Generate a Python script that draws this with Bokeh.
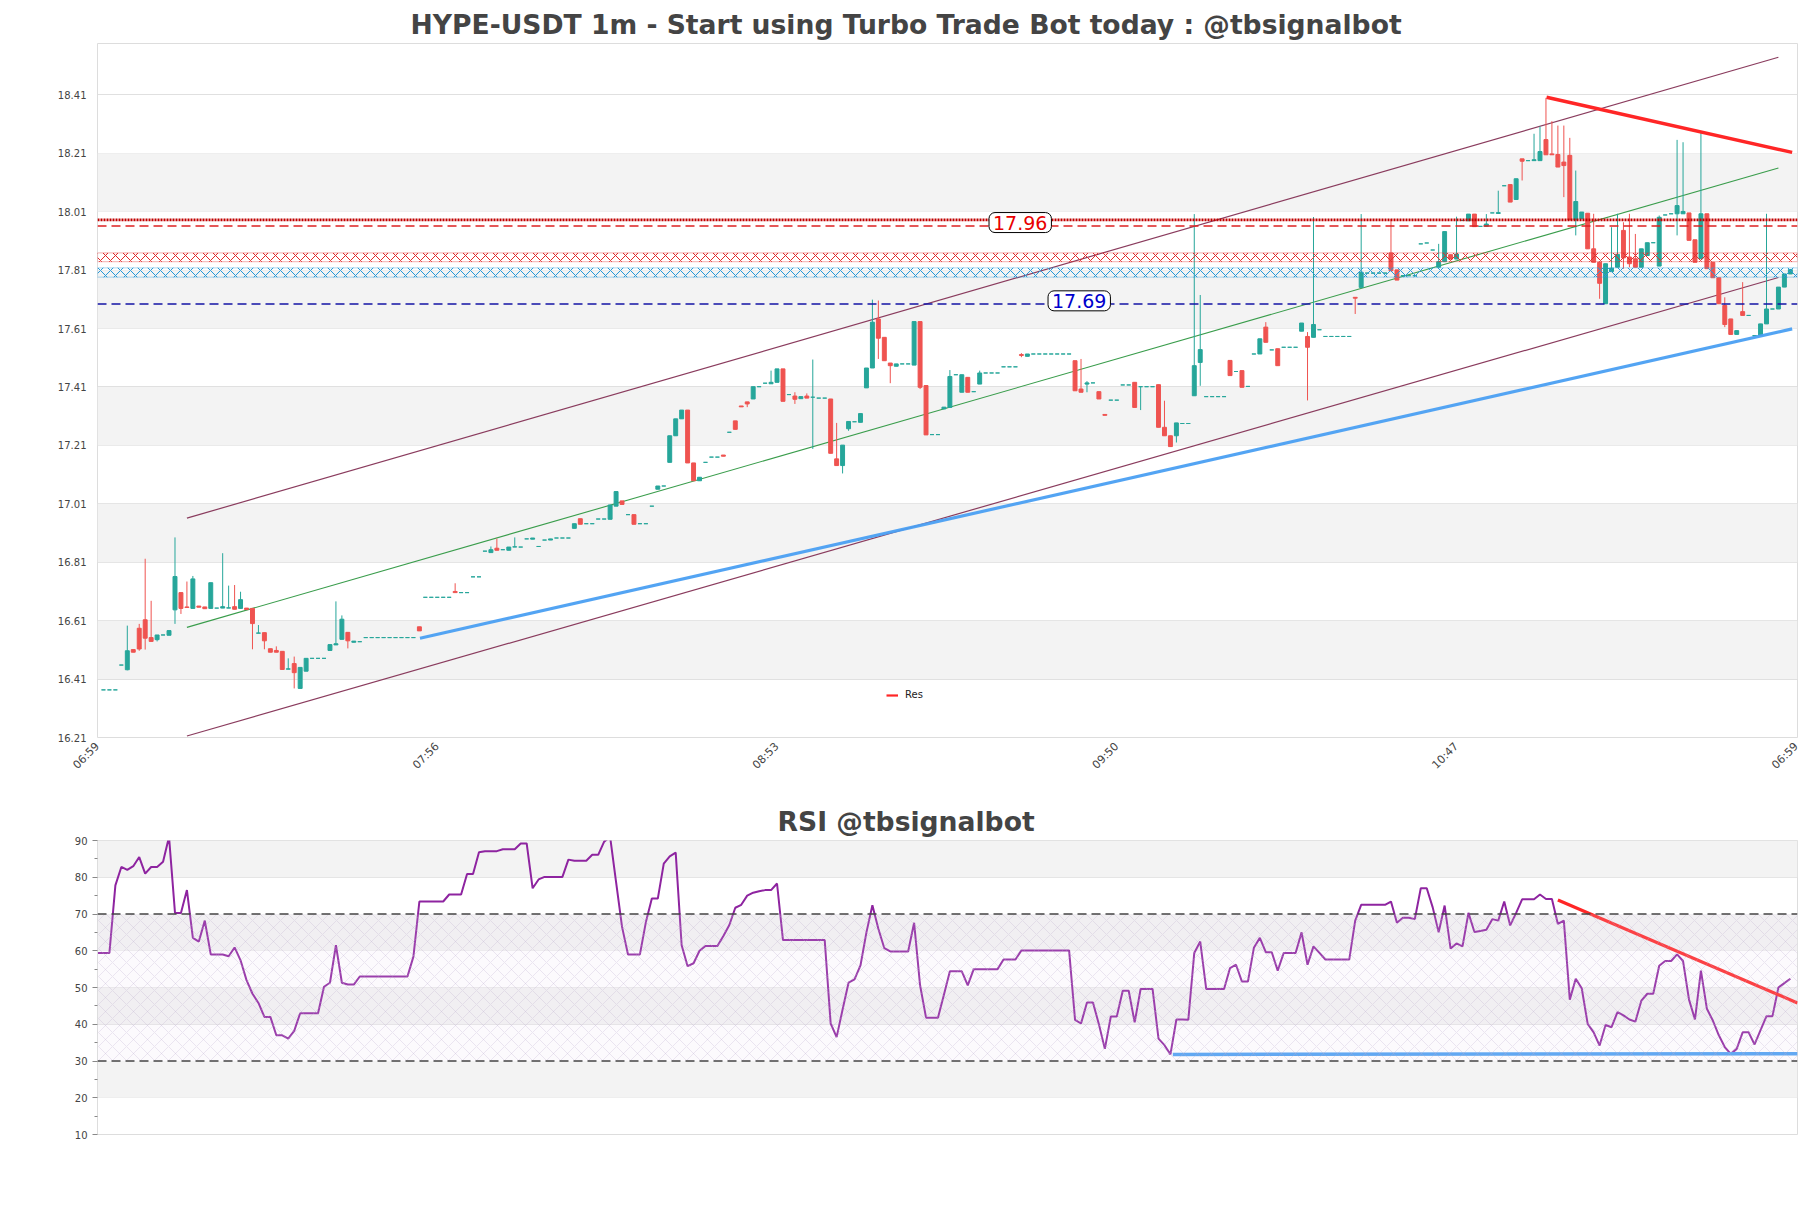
import math
from bokeh.plotting import figure
from bokeh.models import (ColumnDataSource, Range1d, FixedTicker, PrintfTickFormatter,
                          Label, Legend, LegendItem, Title, Span, BoxAnnotation)
from bokeh.layouts import column
from bokeh.embed import file_html
from bokeh.resources import INLINE

# ---------------- data ----------------
title_main = "HYPE-USDT 1m - Start using Turbo Trade Bot today : @tbsignalbot"
title_rsi = "RSI @tbsignalbot"

x_tick_pos = [0, 57, 114, 171, 228, 285]
x_tick_labels = ["06:59", "07:56", "08:53", "09:50", "10:47", "06:59"]
price_ticks = [16.21, 16.41, 16.61, 16.81, 17.01, 17.21, 17.41, 17.61, 17.81, 18.01, 18.21, 18.41]
price_bands = [16.41, 16.81, 17.21, 17.61, 18.01]
rsi_ticks = [10, 20, 30, 40, 50, 60, 70, 80, 90]
rsi_minor = [15, 25, 35, 45, 55, 65, 75, 85]
rsi_bands = [20, 40, 60, 80]

opens = [
    16.373, 16.373, 16.373, 16.458, 16.442, 16.511, 16.584, 16.613, 16.552, 16.545,
    16.561, 16.560, 16.647, 16.706, 16.657, 16.652, 16.660, 16.657, 16.652, 16.653,
    16.653, 16.653, 16.658, 16.652, 16.653, 16.652, 16.567, 16.569, 16.514, 16.508,
    16.505, 16.444, 16.463, 16.378, 16.437, 16.481, 16.481, 16.481, 16.508, 16.527,
    16.546, 16.570, 16.536, 16.538, 16.552, 16.552, 16.552, 16.552, 16.552, 16.552,
    16.552, 16.552, 16.552, 16.589, 16.690, 16.690, 16.690, 16.690, 16.690, 16.710,
    16.706, 16.706, 16.760, 16.760, 16.848, 16.843, 16.858, 16.853, 16.851, 16.862,
    16.862, 16.890, 16.889, 16.864, 16.886, 16.886, 16.893, 16.893, 16.893, 16.926,
    16.959, 16.942, 16.942, 16.958, 16.958, 16.957, 17.002, 17.020, 16.973, 16.973,
    16.942, 16.942, 17.002, 17.060, 17.071, 17.152, 17.243, 17.301, 17.331, 17.150,
    17.089, 17.152, 17.170, 17.170, 17.177, 17.255, 17.294, 17.345, 17.359, 17.369,
    17.411, 17.423, 17.421, 17.426, 17.472, 17.384, 17.379, 17.370, 17.379, 17.375,
    17.372, 17.372, 17.369, 17.164, 17.141, 17.267, 17.291, 17.289, 17.407, 17.475,
    17.643, 17.580, 17.492, 17.481, 17.489, 17.489, 17.485, 17.634, 17.415, 17.247,
    17.247, 17.335, 17.340, 17.452, 17.392, 17.443, 17.394, 17.420, 17.458, 17.458,
    17.458, 17.479, 17.479, 17.479, 17.521, 17.515, 17.523, 17.523, 17.523, 17.523,
    17.523, 17.523, 17.523, 17.500, 17.403, 17.420, 17.424, 17.394, 17.316, 17.365,
    17.365, 17.417, 17.417, 17.426, 17.411, 17.411, 17.411, 17.418, 17.272, 17.243,
    17.243, 17.285, 17.285, 17.380, 17.494, 17.377, 17.377, 17.377, 17.377, 17.501,
    17.463, 17.466, 17.412, 17.523, 17.523, 17.615, 17.537, 17.541, 17.546, 17.546,
    17.546, 17.601, 17.583, 17.580, 17.606, 17.583, 17.583, 17.583, 17.583, 17.583,
    17.717, 17.751, 17.800, 17.800, 17.800, 17.800, 17.869, 17.811, 17.791, 17.791,
    17.791, 17.900, 17.903, 17.879, 17.820, 17.839, 17.863, 17.848, 17.980, 17.979,
    18.002, 17.960, 17.960, 18.006, 18.004, 18.099, 18.103, 18.052, 18.191, 18.185,
    18.185, 18.185, 18.257, 18.208, 18.206, 18.180, 18.203, 17.982, 17.986, 18.005,
    17.883, 17.837, 17.695, 17.805, 17.820, 17.946, 17.855, 17.849, 17.820, 17.860,
    17.904, 17.824, 17.999, 18.003, 18.003, 18.003, 18.006, 17.914, 17.849, 18.003,
    17.837, 17.784, 17.689, 17.643, 17.590, 17.668, 17.655, 17.586, 17.586, 17.626,
    17.677, 17.677, 17.752, 17.797,
]
highs = [
    16.373, 16.373, 16.373, 16.458, 16.593, 16.511, 16.599, 16.822, 16.678, 16.561,
    16.561, 16.576, 16.895, 16.706, 16.744, 16.763, 16.660, 16.657, 16.740, 16.653,
    16.841, 16.730, 16.732, 16.709, 16.653, 16.652, 16.595, 16.569, 16.514, 16.522,
    16.505, 16.481, 16.487, 16.450, 16.481, 16.481, 16.481, 16.481, 16.528, 16.676,
    16.628, 16.570, 16.540, 16.538, 16.552, 16.552, 16.552, 16.552, 16.552, 16.552,
    16.552, 16.552, 16.552, 16.589, 16.690, 16.690, 16.690, 16.690, 16.690, 16.738,
    16.706, 16.706, 16.760, 16.760, 16.848, 16.864, 16.891, 16.853, 16.862, 16.895,
    16.862, 16.890, 16.893, 16.864, 16.886, 16.890, 16.893, 16.893, 16.893, 16.942,
    16.959, 16.942, 16.942, 16.958, 16.958, 17.006, 17.052, 17.020, 16.973, 16.973,
    16.942, 16.942, 17.002, 17.071, 17.071, 17.243, 17.301, 17.331, 17.331, 17.150,
    17.101, 17.152, 17.170, 17.170, 17.177, 17.255, 17.294, 17.345, 17.359, 17.411,
    17.411, 17.423, 17.466, 17.472, 17.472, 17.384, 17.392, 17.377, 17.388, 17.504,
    17.372, 17.372, 17.369, 17.287, 17.211, 17.292, 17.291, 17.319, 17.475, 17.709,
    17.706, 17.580, 17.492, 17.489, 17.489, 17.489, 17.634, 17.634, 17.415, 17.247,
    17.247, 17.341, 17.468, 17.452, 17.452, 17.443, 17.394, 17.466, 17.458, 17.458,
    17.458, 17.479, 17.479, 17.479, 17.526, 17.523, 17.523, 17.523, 17.523, 17.523,
    17.523, 17.523, 17.523, 17.500, 17.506, 17.430, 17.424, 17.394, 17.316, 17.365,
    17.365, 17.417, 17.417, 17.426, 17.411, 17.411, 17.411, 17.418, 17.363, 17.243,
    17.287, 17.285, 17.285, 18.002, 17.725, 17.377, 17.377, 17.377, 17.377, 17.501,
    17.463, 17.466, 17.412, 17.523, 17.575, 17.632, 17.537, 17.541, 17.546, 17.546,
    17.546, 17.629, 17.598, 17.992, 17.606, 17.583, 17.583, 17.583, 17.583, 17.583,
    17.717, 18.002, 17.800, 17.800, 17.800, 17.800, 17.985, 17.811, 17.791, 17.791,
    17.791, 17.900, 17.903, 17.879, 17.900, 17.942, 17.863, 17.993, 17.980, 18.002,
    18.002, 17.960, 18.002, 18.006, 18.082, 18.099, 18.103, 18.123, 18.191, 18.185,
    18.277, 18.302, 18.400, 18.320, 18.305, 18.305, 18.263, 18.151, 18.009, 18.005,
    18.003, 17.837, 17.832, 17.957, 18.003, 17.974, 18.003, 17.934, 17.883, 17.904,
    17.904, 17.997, 17.999, 18.003, 18.256, 18.248, 18.006, 17.914, 18.286, 18.003,
    17.837, 17.784, 17.717, 17.643, 17.603, 17.769, 17.655, 17.586, 17.626, 18.003,
    17.677, 17.752, 17.797, 17.812,
]
lows = [
    16.373, 16.373, 16.373, 16.458, 16.440, 16.502, 16.507, 16.511, 16.538, 16.539,
    16.561, 16.560, 16.599, 16.633, 16.655, 16.652, 16.656, 16.651, 16.652, 16.653,
    16.653, 16.653, 16.649, 16.652, 16.648, 16.512, 16.567, 16.512, 16.502, 16.502,
    16.443, 16.444, 16.378, 16.378, 16.437, 16.481, 16.481, 16.481, 16.508, 16.527,
    16.546, 16.515, 16.536, 16.538, 16.552, 16.552, 16.552, 16.552, 16.552, 16.552,
    16.552, 16.552, 16.552, 16.575, 16.690, 16.690, 16.690, 16.690, 16.690, 16.706,
    16.706, 16.706, 16.760, 16.760, 16.848, 16.843, 16.851, 16.853, 16.851, 16.862,
    16.862, 16.890, 16.889, 16.864, 16.886, 16.886, 16.893, 16.893, 16.893, 16.926,
    16.940, 16.942, 16.942, 16.958, 16.958, 16.957, 17.002, 17.008, 16.973, 16.940,
    16.942, 16.942, 17.002, 17.060, 17.071, 17.152, 17.243, 17.301, 17.150, 17.089,
    17.089, 17.152, 17.170, 17.170, 17.173, 17.255, 17.265, 17.342, 17.341, 17.369,
    17.411, 17.423, 17.421, 17.426, 17.361, 17.384, 17.352, 17.370, 17.372, 17.198,
    17.372, 17.372, 17.183, 17.141, 17.114, 17.260, 17.291, 17.289, 17.407, 17.475,
    17.506, 17.500, 17.423, 17.481, 17.489, 17.489, 17.485, 17.403, 17.246, 17.247,
    17.247, 17.335, 17.340, 17.452, 17.392, 17.392, 17.394, 17.420, 17.458, 17.458,
    17.458, 17.479, 17.479, 17.479, 17.512, 17.515, 17.523, 17.523, 17.523, 17.523,
    17.523, 17.523, 17.523, 17.397, 17.392, 17.392, 17.424, 17.369, 17.313, 17.365,
    17.365, 17.417, 17.417, 17.340, 17.331, 17.411, 17.411, 17.272, 17.243, 17.206,
    17.220, 17.285, 17.285, 17.380, 17.414, 17.377, 17.377, 17.377, 17.377, 17.449,
    17.463, 17.409, 17.412, 17.523, 17.523, 17.563, 17.537, 17.483, 17.546, 17.546,
    17.546, 17.601, 17.364, 17.580, 17.606, 17.583, 17.583, 17.583, 17.583, 17.583,
    17.660, 17.751, 17.800, 17.800, 17.800, 17.800, 17.808, 17.776, 17.791, 17.791,
    17.791, 17.900, 17.903, 17.879, 17.820, 17.839, 17.848, 17.848, 17.980, 17.979,
    17.959, 17.960, 17.960, 18.006, 18.004, 18.099, 18.043, 18.052, 18.117, 18.185,
    18.185, 18.185, 18.205, 18.205, 18.163, 18.060, 17.982, 17.929, 17.986, 17.883,
    17.837, 17.712, 17.695, 17.805, 17.820, 17.815, 17.820, 17.820, 17.820, 17.860,
    17.904, 17.824, 17.999, 18.003, 17.929, 18.003, 17.912, 17.837, 17.849, 17.815,
    17.784, 17.695, 17.615, 17.590, 17.590, 17.655, 17.655, 17.586, 17.586, 17.626,
    17.677, 17.677, 17.752, 17.797,
]
closes = [
    16.373, 16.373, 16.373, 16.458, 16.507, 16.502, 16.513, 16.550, 16.539, 16.561,
    16.561, 16.576, 16.761, 16.652, 16.655, 16.753, 16.656, 16.651, 16.740, 16.653,
    16.658, 16.654, 16.649, 16.682, 16.648, 16.600, 16.568, 16.541, 16.502, 16.502,
    16.443, 16.445, 16.432, 16.450, 16.481, 16.481, 16.481, 16.481, 16.528, 16.531,
    16.615, 16.541, 16.540, 16.538, 16.552, 16.552, 16.552, 16.552, 16.552, 16.552,
    16.552, 16.552, 16.552, 16.575, 16.690, 16.690, 16.690, 16.690, 16.690, 16.706,
    16.706, 16.706, 16.760, 16.760, 16.848, 16.853, 16.851, 16.853, 16.862, 16.863,
    16.862, 16.890, 16.893, 16.864, 16.886, 16.890, 16.893, 16.893, 16.893, 16.942,
    16.940, 16.942, 16.942, 16.958, 16.958, 17.006, 17.052, 17.008, 16.973, 16.940,
    16.942, 16.942, 17.002, 17.071, 17.071, 17.243, 17.301, 17.331, 17.150, 17.089,
    17.101, 17.152, 17.170, 17.170, 17.173, 17.255, 17.265, 17.342, 17.352, 17.411,
    17.411, 17.423, 17.426, 17.472, 17.361, 17.384, 17.368, 17.377, 17.372, 17.375,
    17.372, 17.372, 17.183, 17.141, 17.211, 17.292, 17.291, 17.319, 17.475, 17.632,
    17.577, 17.500, 17.483, 17.489, 17.489, 17.489, 17.634, 17.409, 17.246, 17.247,
    17.247, 17.341, 17.446, 17.452, 17.452, 17.392, 17.394, 17.458, 17.458, 17.458,
    17.458, 17.479, 17.479, 17.479, 17.518, 17.523, 17.523, 17.523, 17.523, 17.523,
    17.523, 17.523, 17.523, 17.397, 17.392, 17.424, 17.424, 17.369, 17.313, 17.365,
    17.365, 17.417, 17.417, 17.340, 17.411, 17.411, 17.411, 17.272, 17.243, 17.206,
    17.287, 17.285, 17.285, 17.483, 17.538, 17.377, 17.377, 17.377, 17.377, 17.449,
    17.463, 17.409, 17.412, 17.523, 17.575, 17.563, 17.537, 17.483, 17.546, 17.546,
    17.546, 17.629, 17.546, 17.624, 17.606, 17.583, 17.583, 17.583, 17.583, 17.583,
    17.714, 17.803, 17.800, 17.800, 17.800, 17.800, 17.808, 17.776, 17.791, 17.791,
    17.791, 17.900, 17.903, 17.879, 17.839, 17.942, 17.848, 17.865, 17.980, 18.002,
    17.959, 17.960, 17.968, 18.006, 18.007, 18.099, 18.043, 18.123, 18.183, 18.185,
    18.188, 18.216, 18.205, 18.205, 18.163, 18.168, 17.982, 18.045, 18.009, 17.883,
    17.837, 17.765, 17.832, 17.817, 17.864, 17.852, 17.832, 17.820, 17.883, 17.904,
    17.904, 17.991, 17.999, 18.003, 18.031, 18.011, 17.912, 17.837, 18.003, 17.815,
    17.784, 17.695, 17.624, 17.590, 17.603, 17.655, 17.655, 17.586, 17.626, 17.677,
    17.677, 17.752, 17.797, 17.812,
]

rsi = [
    59.4, 59.4, 59.4, 77.8, 82.8, 82.0, 83.0, 85.5, 81.0, 82.8,
    82.8, 84.2, 91.0, 70.3, 70.3, 76.5, 63.5, 62.5, 68.2, 59.0,
    59.0, 59.0, 58.5, 60.9, 57.4, 52.0, 48.3, 45.8, 42.0, 42.0,
    37.0, 37.0, 36.1, 38.2, 43.0, 43.0, 43.0, 43.0, 50.2, 51.3,
    61.5, 51.3, 50.8, 50.8, 53.0, 53.0, 53.0, 53.0, 53.0, 53.0,
    53.0, 53.0, 53.0, 58.4, 73.4, 73.4, 73.4, 73.4, 73.4, 75.3,
    75.3, 75.3, 80.9, 80.9, 86.8, 87.1, 87.1, 87.1, 87.6, 87.6,
    87.6, 89.2, 89.2, 77.0, 79.4, 80.1, 80.1, 80.1, 80.1, 84.8,
    84.5, 84.5, 84.5, 86.1, 86.1, 89.7, 91.0, 78.7, 66.5, 59.0,
    59.0, 59.0, 67.8, 74.2, 74.2, 83.7, 85.7, 86.7, 61.5, 55.8,
    56.6, 60.0, 61.3, 61.3, 61.3, 64.0, 67.0, 71.7, 72.5, 75.0,
    75.8, 76.2, 76.5, 76.5, 78.3, 62.9, 62.9, 62.9, 62.9, 62.9,
    62.9, 62.9, 62.9, 40.2, 36.5, 44.0, 51.3, 52.2, 56.0, 65.0,
    72.4, 66.0, 60.7, 59.8, 59.8, 59.8, 59.8, 67.6, 50.6, 41.8,
    41.8, 41.8, 48.0, 54.4, 54.4, 54.4, 50.6, 55.0, 55.0, 55.0,
    55.0, 55.0, 57.6, 57.6, 57.6, 60.1, 60.1, 60.1, 60.1, 60.1,
    60.1, 60.1, 60.1, 60.1, 41.2, 40.2, 45.9, 45.9, 40.0, 33.3,
    42.1, 42.1, 49.1, 49.1, 40.5, 49.6, 49.6, 49.6, 36.1, 34.3,
    31.8, 41.3, 41.3, 41.2, 59.4, 62.5, 49.6, 49.6, 49.6, 49.6,
    55.3, 56.2, 51.6, 51.6, 60.8, 63.5, 59.6, 59.6, 54.6, 59.4,
    59.4, 59.4, 65.0, 56.2, 61.2, 59.4, 57.6, 57.6, 57.6, 57.6,
    57.6, 68.2, 72.5, 72.5, 72.5, 72.5, 72.5, 73.4, 67.6, 69.0,
    69.0, 68.6, 77.0, 77.0, 71.8, 65.0, 72.3, 60.6, 62.0, 61.2,
    70.3, 65.1, 65.4, 65.7, 68.6, 68.2, 73.4, 66.9, 70.3, 74.0,
    74.0, 74.0, 75.3, 74.1, 74.1, 67.3, 68.2, 46.7, 52.4, 49.8,
    40.1, 37.8, 34.2, 39.8, 39.2, 43.3, 42.4, 41.3, 40.7, 46.4,
    48.3, 48.3, 55.9, 57.2, 57.2, 59.0, 57.2, 46.7, 41.3, 54.6,
    44.2, 41.0, 37.0, 33.8, 31.9, 33.3, 37.8, 37.8, 34.5, 38.4,
    42.2, 42.2, 50.0, 51.2, 52.4,
]

# trend / channel lines (index, price)
chan_up_x, chan_up_y = [15, 282], [16.961, 18.539]
chan_lo_x, chan_lo_y = [15, 282], [16.215, 17.785]
chan_mid_x, chan_mid_y = [15, 282], [16.587, 18.160]
sup_x, sup_y = [54.1, 284.3], [16.550, 17.609]
res_x, res_y = [243.1, 284.3], [18.402, 18.213]

# horizontal levels
lvl_dotted = 17.982
lvl_res = 17.961
lvl_sup = 17.694
zone_red = (17.839, 17.869)
zone_blue = (17.786, 17.818)
label_res = (154.8, 17.973, "17.96")
label_sup = (164.7, 17.705, "17.69")

# RSI trend lines
rsi_res_x, rsi_res_y = [245.0, 285.2], [73.8, 45.8]
rsi_sup_x, rsi_sup_y = [180.4, 285.2], [31.8, 32.0]

# ---------------- build ----------------
FONT = "DejaVu Sans"
TXT = "#444444"
GREEN = "#26a69a"
RED = "#ef5350"
BAND = "#f3f3f3"
GRID = "#e0e0e0"

cx = list(range(1, len(opens) + 1))
colors = [GREEN if c >= o else RED for o, c in zip(opens, closes)]
src = ColumnDataSource(dict(
    x=cx, open=opens, close=closes, high=highs, low=lows,
    top=[max(o, c) for o, c in zip(opens, closes)],
    bottom=[min(o, c) for o, c in zip(opens, closes)],
    color=colors))

XR = (0, 285.2)
p = figure(width=1811, height=780, x_range=Range1d(*XR), y_range=Range1d(16.21, 18.586),
           output_backend="svg", toolbar_location=None,
           min_border_left=97, min_border_right=14, min_border_top=43, min_border_bottom=43)
p.title = Title(text=title_main, align="left", offset=313, text_font_size="26.6px",
                text_font_style="bold", text_color=TXT, text_font=FONT, standoff=8)
p.outline_line_color = "#dddddd"
p.background_fill_color = "white"
p.border_fill_color = "white"

for lo in price_bands:
    p.add_layout(BoxAnnotation(bottom=lo, top=round(lo + 0.2, 2), fill_color=BAND, fill_alpha=1,
                               line_alpha=0, level="underlay"))

p.yaxis.ticker = FixedTicker(ticks=price_ticks)
p.yaxis.formatter = PrintfTickFormatter(format="%.2f")
p.ygrid.ticker = FixedTicker(ticks=price_ticks)
p.ygrid.grid_line_color = GRID
p.xgrid.grid_line_color = None
p.xaxis.ticker = FixedTicker(ticks=x_tick_pos)
p.xaxis.major_label_overrides = {t: l for t, l in zip(x_tick_pos, x_tick_labels)}
p.xaxis.major_label_orientation = math.pi / 4
for ax in (p.xaxis, p.yaxis):
    ax.major_label_text_font = FONT
    ax.major_label_text_color = TXT
    ax.major_tick_line_color = None
    ax.minor_tick_line_color = None
    ax.axis_line_color = None
p.yaxis.major_label_text_font_size = "10px"
p.xaxis.major_label_text_font_size = "11px"
p.xaxis.major_label_standoff = 1

# hatched zones
p.add_layout(BoxAnnotation(bottom=zone_red[0], top=zone_red[1], fill_alpha=0,
                           hatch_pattern="diagonal_cross", hatch_color="#e02828", hatch_scale=10,
                           hatch_weight=1, line_color="#e02828", line_width=1.2))
p.add_layout(BoxAnnotation(bottom=zone_blue[0], top=zone_blue[1], fill_alpha=0,
                           hatch_pattern="diagonal_cross", hatch_color="#2598d8", hatch_scale=10,
                           hatch_weight=1, line_color="#2598d8", line_width=1.2))

p.add_layout(Span(location=lvl_dotted, dimension="width", line_color="#c00000",
                  line_width=2.6, line_dash="2 1"))
p.add_layout(Span(location=lvl_res, dimension="width", line_color="#dd2020",
                  line_width=1.5, line_dash="9 5"))
p.add_layout(Span(location=lvl_sup, dimension="width", line_color="#1515a5",
                  line_width=1.5, line_dash="9 5"))

# channel
p.line(chan_up_x, chan_up_y, line_color="#8a3c5e", line_width=1.2)
p.line(chan_lo_x, chan_lo_y, line_color="#8a3c5e", line_width=1.2)
p.line(chan_mid_x, chan_mid_y, line_color="#3a9d4c", line_width=1.1)

# candles
p.segment(x0="x", y0="high", x1="x", y1="low", line_color="color", line_width=1, source=src)
p.vbar(x="x", width=0.66, top="top", bottom="bottom", fill_color="color",
       line_color="color", line_width=1, source=src)

# support / resistance trend lines
p.line(sup_x, sup_y, line_color="#4a9ff2", line_width=3.2, line_alpha=0.95)
p.line(res_x, res_y, line_color="#ff2626", line_width=3.4)

for (lx, ly, lt), col in ((label_res, "#e80000"), (label_sup, "#0000cc")):
    p.add_layout(Label(x=lx, y=ly, text=lt, text_align="center", text_baseline="middle",
                       text_color=col, text_font_size="19px", text_font=FONT,
                       background_fill_color="white", border_line_color="black",
                       border_line_width=1, border_radius=6, padding=(4, 3)))

# legend proxy (drawn outside the visible range; only its legend sample shows)
res_proxy = p.line(res_x, [0, 0], line_color="#ff2626", line_width=2.2)
legend = Legend(items=[LegendItem(label="Res", renderers=[res_proxy])], location=(789, 37),
                border_line_alpha=0, background_fill_alpha=0, label_text_font_size="10px",
                label_text_font=FONT, label_text_color="#222222", glyph_width=12, glyph_height=10,
                padding=0, margin=0, label_standoff=7, label_height=10)
p.add_layout(legend)

# ---------------- RSI ----------------
p2 = figure(width=1811, height=428, x_range=Range1d(*XR), y_range=Range1d(10, 90),
            output_backend="svg", toolbar_location=None,
            min_border_left=97, min_border_right=14, min_border_top=60, min_border_bottom=74)
p2.title = Title(text=title_rsi, align="left", offset=680, text_font_size="26.6px",
                 text_font_style="bold", text_color=TXT, text_font=FONT, standoff=8)
p2.outline_line_color = "#dddddd"
for lo in rsi_bands:
    p2.add_layout(BoxAnnotation(bottom=lo, top=lo + 10, fill_color=BAND, fill_alpha=1,
                                line_alpha=0, level="underlay"))
p2.add_layout(BoxAnnotation(bottom=30, top=70, fill_color="#e8e0f0", fill_alpha=0.15,
                            hatch_pattern="diagonal_cross", hatch_color="#b9a9cc",
                            hatch_alpha=0.45, hatch_scale=14, hatch_weight=0.6, line_alpha=0))
p2.yaxis.ticker = FixedTicker(ticks=rsi_ticks, minor_ticks=rsi_minor)
p2.ygrid.ticker = FixedTicker(ticks=rsi_ticks)
p2.ygrid.grid_line_color = GRID
p2.xgrid.grid_line_color = None
p2.xaxis.visible = False
p2.yaxis.major_label_text_font = FONT
p2.yaxis.major_label_text_font_size = "10px"
p2.yaxis.major_label_text_color = TXT
p2.yaxis.major_tick_line_color = "#888888"
p2.yaxis.minor_tick_line_color = "#888888"
p2.yaxis.major_tick_out = 5
p2.yaxis.major_tick_in = 0
p2.yaxis.minor_tick_out = 3
p2.yaxis.minor_tick_in = 0
p2.yaxis.axis_line_color = "#dddddd"

p2.add_layout(Span(location=70, dimension="width", line_color="#444444", line_width=1.4, line_dash="9 5"))
p2.add_layout(Span(location=30, dimension="width", line_color="#444444", line_width=1.4, line_dash="9 5"))

p2.line(list(range(0, len(rsi))), rsi, line_color="#8e24a0", line_width=2)
p2.line(rsi_sup_x, rsi_sup_y, line_color="#4a9ff2", line_width=3.5)
p2.line(rsi_res_x, rsi_res_y, line_color="#ff2626", line_width=3.2)

layout = column(p, p2, spacing=0)
open("out.html", "w").write(file_html(layout, INLINE, "chart"))
